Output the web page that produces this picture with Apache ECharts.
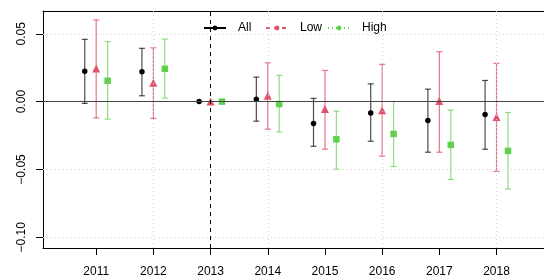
<!DOCTYPE html>
<html>
<head>
<meta charset="utf-8">
<script src="https://cdn.jsdelivr.net/npm/echarts@6/dist/echarts.min.js"></script>
<style>
html, body { margin: 0; padding: 0; background: #fff; }
#chart { width: 544px; height: 280px; }
</style>
</head>
<body>
<div id="chart"></div>
<script>
// event-study estimates (2013 = reference year)
var years = [2011, 2012, 2013, 2014, 2015, 2016, 2017, 2018];
var yTicks = [0.05, 0, -0.05, -0.10];
var xGrid = [2012, 2014, 2016, 2018];

var allEst = [0.0223, 0.0220, 0, 0.0018, -0.0161, -0.0083, -0.0139, -0.0095];
var allLo  = [-0.0013, 0.0043, null, -0.0144, -0.0329, -0.0292, -0.0373, -0.0351];
var allHi  = [0.0459, 0.0393, null, 0.0181, 0.0024, 0.0131, 0.0092, 0.0156];

var lowEst = [0.0245, 0.0139, 0, 0.0043, -0.0055, -0.0063, 0.0004, -0.0114];
var lowLo  = [-0.0120, -0.0124, null, -0.0203, -0.0351, -0.0402, -0.0373, -0.0515];
var lowHi  = [0.0602, 0.0397, null, 0.0286, 0.0230, 0.0275, 0.0368, 0.0282];

var highEst = [0.0154, 0.0242, 0, -0.0018, -0.0278, -0.0238, -0.0319, -0.0363];
var highLo  = [-0.0129, 0.0026, null, -0.0223, -0.0498, -0.0478, -0.0574, -0.0644];
var highHi  = [0.0442, 0.0461, null, 0.0193, -0.0070, 0.0001, -0.0063, -0.0080];

var font = 'Liberation Sans, Arial, sans-serif';

var groups = [
  { name: 'All', est: allEst, lo: allLo, hi: allHi, off: -0.2, color: '#000000',
    bar: 'rgba(0,0,0,0.7)', symbol: 'circle', size: 5.5, dash: 'solid' },
  { name: 'Low', est: lowEst, lo: lowLo, hi: lowHi, off: 0, color: '#DF536B',
    bar: 'rgba(223,83,107,0.8)', symbol: 'triangle', size: 8, dash: [4, 4] },
  { name: 'High', est: highEst, lo: highLo, hi: highHi, off: 0.2, color: '#61D04F',
    bar: 'rgba(97,208,79,0.7)', symbol: 'rect', size: 6.5, dash: [1, 3] }
];

function errorBar(color) {
  return function (params, api) {
    var x = api.value(0);
    var p1 = api.coord([x, api.value(1)]);
    var p2 = api.coord([x, api.value(2)]);
    var w = 3;
    var style = { stroke: color, lineWidth: 1.2 };
    return {
      type: 'group',
      children: [
        { type: 'line', shape: { x1: p1[0], y1: p1[1], x2: p2[0], y2: p2[1] }, style: style },
        { type: 'line', shape: { x1: p1[0] - w, y1: p1[1], x2: p1[0] + w, y2: p1[1] }, style: style },
        { type: 'line', shape: { x1: p2[0] - w, y1: p2[1], x2: p2[0] + w, y2: p2[1] }, style: style }
      ]
    };
  };
}

var dotted = { color: '#cfcfcf', width: 1, type: [1, 3] };
var refLines = [];
yTicks.forEach(function (v) {
  if (v !== 0) refLines.push({ yAxis: v, lineStyle: dotted });
});
xGrid.forEach(function (v) {
  refLines.push({ xAxis: v, lineStyle: dotted });
});
refLines.push({ yAxis: 0, lineStyle: { color: '#444', width: 1.2, type: 'solid' } });
refLines.push({ xAxis: 2013, lineStyle: { color: '#000', width: 1, type: [4, 4] } });

var series = [{
  type: 'line', data: [], z: 1, silent: true,
  markLine: { silent: true, symbol: ['none', 'none'], label: { show: false }, animation: false, data: refLines }
}];

groups.forEach(function (g) {
  // legend-only series (line + dot icon)
  series.push({
    name: g.name, type: 'line', data: [], symbol: 'circle', color: g.color,
    lineStyle: { color: g.color, width: 1, type: g.dash }
  });
  var bars = [], pts = [];
  years.forEach(function (y, i) {
    pts.push([y + g.off, g.est[i]]);
    if (g.lo[i] != null) bars.push([y + g.off, g.lo[i], g.hi[i]]);
  });
  series.push({
    name: g.name, type: 'custom', z: 2, silent: true,
    renderItem: errorBar(g.bar),
    encode: { x: 0, y: [1, 2] },
    data: bars
  });
  series.push({
    name: g.name, type: 'scatter', z: 3, silent: true,
    symbol: g.symbol, symbolSize: g.size,
    itemStyle: { color: g.color, opacity: 1 },
    data: pts
  });
});

var xMin = 2010.07, xMax = 2018.83;

var chart = echarts.init(document.getElementById('chart'));
chart.setOption({
  animation: false,
  textStyle: { fontFamily: font },
  // plot box is cut off at the right edge of the picture: no right border
  grid: { left: 43, right: 0, top: 11, bottom: 32 },
  legend: groups.map(function (g, i) {
    return {
      data: [g.name], left: 203 + 62 * i, top: 22, padding: 0,
      itemWidth: 22, itemHeight: 6, selectedMode: false,
      textStyle: { fontSize: 12, color: '#000', fontFamily: font, padding: [0, 0, 0, 7] }
    };
  }),
  xAxis: [{
    type: 'value', min: xMin, max: xMax,
    axisLine: { show: true, onZero: false, lineStyle: { color: '#000', width: 1 } },
    axisTick: { show: true, length: 7, customValues: years, lineStyle: { color: '#000' } },
    axisLabel: {
      customValues: years, margin: 18, fontSize: 12, color: '#000', fontFamily: font,
      formatter: function (v) { return String(v); }
    },
    splitLine: { show: false }
  }, {
    type: 'value', min: xMin, max: xMax, position: 'top',
    axisLine: { show: true, onZero: false, lineStyle: { color: '#000', width: 1 } },
    axisTick: { show: false }, axisLabel: { show: false }, splitLine: { show: false }
  }],
  yAxis: {
    type: 'value', min: -0.1079, max: 0.0668,
    axisLine: { show: true, onZero: false, lineStyle: { color: '#000', width: 1 } },
    axisTick: { show: true, length: 7, customValues: yTicks, lineStyle: { color: '#000' } },
    axisLabel: {
      customValues: yTicks, rotate: 90, margin: 15, fontSize: 12, color: '#000', fontFamily: font,
      formatter: function (v) { return v.toFixed(2).replace('-', '\u2212'); }
    },
    splitLine: { show: false }
  },
  series: series
});
</script>
</body>
</html>
